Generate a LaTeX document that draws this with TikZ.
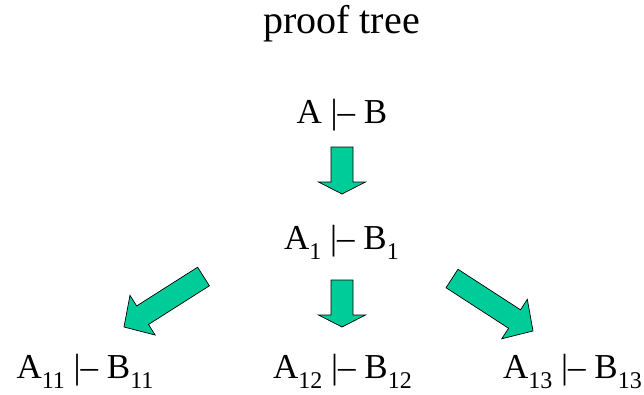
\documentclass[tikz,border=0pt]{standalone}
\usepackage{fontspec}
\setmainfont{Liberation Serif}
\usepackage{tikz}
\usetikzlibrary{calc}
\definecolor{arrowgreen}{RGB}{0,204,153}
\newcommand{\lsub}[1]{\raisebox{-10pt}{\fontsize{24}{24}\selectfont #1}}
% fat block arrow from tail #2 to tip #3, head length #1
\newcommand{\fatarrow}[3][12pt]{%
  \coordinate (neck) at ($(#3)!#1!(#2)$);
  \filldraw[fatarr] ($(#2)!11pt!90:(#3)$) -- ($(neck)!11pt!90:(#3)$)
    -- ($(neck)!23.5pt!90:(#3)$) -- (#3) -- ($(neck)!23.5pt!-90:(#3)$)
    -- ($(neck)!11pt!-90:(#3)$) -- ($(#2)!11pt!-90:(#3)$) -- cycle;
}

\begin{document}
\begin{tikzpicture}[
  x=1pt, y=-1pt,
  title/.style={anchor=base, inner sep=0pt, font=\fontsize{40}{44}\selectfont},
  seq/.style={anchor=base, inner sep=0pt, font=\fontsize{35}{40}\selectfont},
  fatarr/.style={fill=arrowgreen, draw=black, line width=0.7pt, line join=miter}
]
\useasboundingbox (0,0) rectangle (644,394);
\node[title] (head) at (341.5,33) {proof tree};
\node[seq] (ab) at (342,123) {A |-- B};
\node[seq] (ab1) at (341.5,249) {A\lsub{1} |-- B\lsub{1}};
\node[seq] (ab11) at (85,378) {A\lsub{11} |-- B\lsub{11}};
\node[seq] (ab12) at (342.5,378) {A\lsub{12} |-- B\lsub{12}};
\node[seq] (ab13) at (572.5,378) {A\lsub{13} |-- B\lsub{13}};
% arrow ends
\coordinate (t1) at (342,147);
\coordinate (h1) at (342,194);
\coordinate (t2) at (342,280);
\coordinate (h2) at (342,327);
\coordinate (t3) at (203.5,276.5);
\coordinate (h3) at (124,327);
\coordinate (t4) at (452,278.5);
\coordinate (h4) at (533,331);
\fatarrow{t1}{h1}
\fatarrow{t2}{h2}
\fatarrow[22pt]{t3}{h3}
\fatarrow[22pt]{t4}{h4}
\end{tikzpicture}
\end{document}
